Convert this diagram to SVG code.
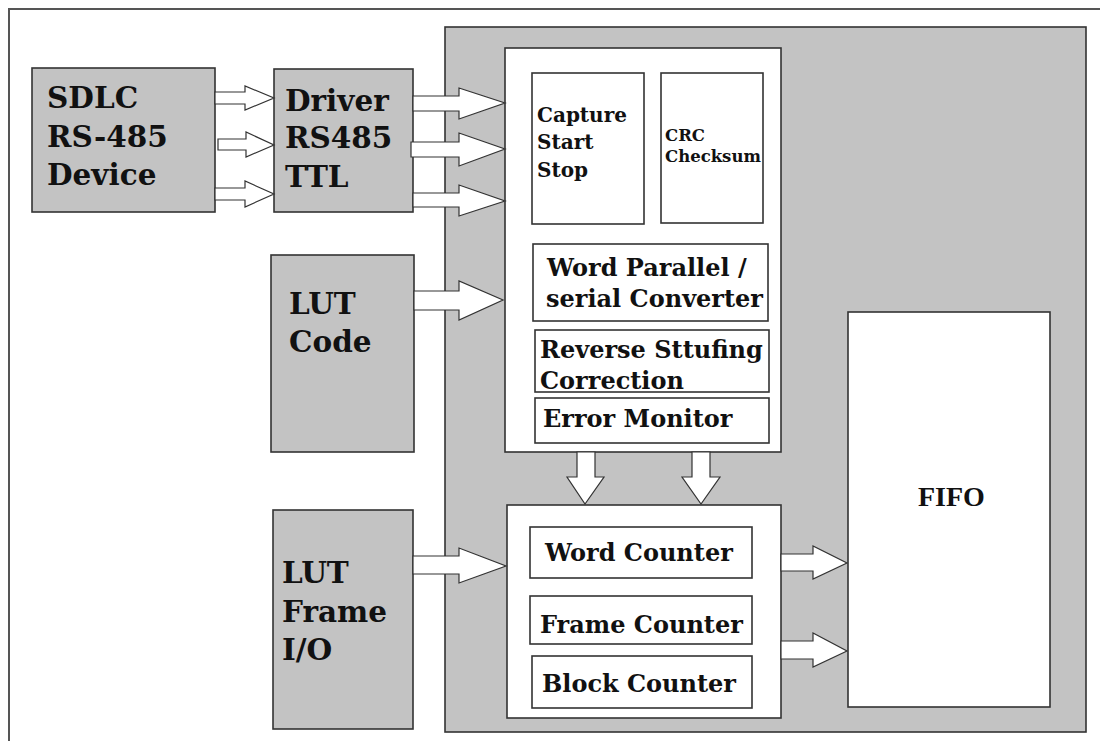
<svg xmlns="http://www.w3.org/2000/svg" width="1100" height="741" viewBox="0 0 1100 741">
<defs>
<style>
.bg{fill:#ffffff}
.frame{fill:none;stroke:#555;stroke-width:2}
.gray{fill:#c3c3c3;stroke:#333;stroke-width:1.6}
.white{fill:#ffffff;stroke:#333;stroke-width:1.6}
.arrow{fill:#ffffff;stroke:#333;stroke-width:1.2;stroke-linejoin:miter}
.big{font-family:"DejaVu Serif",serif;font-weight:bold;font-size:29.5px;fill:#111}
.mid{font-family:"DejaVu Serif",serif;font-weight:bold;font-size:24px;fill:#111}
.sm{font-family:"DejaVu Serif",serif;font-weight:bold;font-size:20px;fill:#111}
.xs{font-family:"DejaVu Serif",serif;font-weight:bold;font-size:16.5px;fill:#111}
.fifo{font-family:"Liberation Serif",serif;font-weight:bold;font-size:28px;fill:#111}
</style>
<clipPath id="crcClip"><rect x="661" y="73" width="101" height="150"/></clipPath>
</defs>
<rect class="bg" x="0" y="0" width="1100" height="741"/>
<rect class="frame" x="9" y="9" width="1100" height="740"/>

<g id="panel"><rect class="gray" x="445" y="27" width="641" height="705"/></g>

<g id="sdlc">
<rect class="gray" x="32" y="68" width="183" height="144"/>
<text class="big" x="47" y="108">SDLC</text>
<text class="big" x="47" y="147">RS-485</text>
<text class="big" x="47" y="185">Device</text>
</g>

<g id="driver">
<rect class="gray" x="274" y="69" width="139" height="143"/>
<text class="big" x="285" y="111">Driver</text>
<text class="big" x="285" y="148">RS485</text>
<text class="big" x="285" y="187">TTL</text>
</g>

<g id="lutcode">
<rect class="gray" x="271" y="255" width="143" height="197"/>
<text class="big" x="289" y="314">LUT</text>
<text class="big" x="289" y="352">Code</text>
</g>

<g id="lutframe">
<rect class="gray" x="273" y="510" width="140" height="219"/>
<text class="big" x="282" y="583">LUT</text>
<text class="big" x="282" y="622">Frame</text>
<text class="big" x="282" y="660">I/O</text>
</g>

<g id="decoder">
<rect class="white" x="505" y="48" width="276" height="404"/>
</g>

<g id="capture">
<rect class="white" x="532" y="73" width="112" height="151"/>
<text class="sm" x="537" y="122">Capture</text>
<text class="sm" x="537" y="149">Start</text>
<text class="sm" x="537" y="177">Stop</text>
</g>

<g id="crc">
<rect class="white" x="661" y="73" width="102" height="150"/>
<g clip-path="url(#crcClip)">
<text class="xs" x="665" y="141">CRC</text>
<text class="xs" x="665" y="162">Checksum</text>
</g>
</g>

<g id="wordparallel">
<rect class="white" x="533" y="244" width="235" height="77"/>
<text class="mid" x="547" y="276">Word Parallel /</text>
<text class="mid" x="546" y="307">serial Converter</text>
</g>

<g id="reverse">
<rect class="white" x="535" y="330" width="234" height="62"/>
<text class="mid" x="540" y="358">Reverse Sttufing</text>
<text class="mid" x="540" y="389">Correction</text>
</g>

<g id="errormonitor">
<rect class="white" x="535" y="398" width="234" height="45"/>
<text class="mid" x="543" y="427">Error Monitor</text>
</g>

<g id="counters">
<rect class="white" x="507" y="505" width="274" height="213"/>
</g>

<g id="wordcounter">
<rect class="white" x="530" y="527" width="222" height="51"/>
<text class="mid" x="545" y="561">Word Counter</text>
</g>

<g id="framecounter">
<rect class="white" x="530" y="596" width="222" height="48"/>
<text class="mid" x="540" y="633">Frame Counter</text>
</g>

<g id="blockcounter">
<rect class="white" x="532" y="656" width="220" height="52"/>
<text class="mid" x="542" y="692">Block Counter</text>
</g>

<g id="fifo">
<rect class="white" x="848" y="312" width="202" height="395"/>
<text class="fifo" x="918" y="506">FIFO</text>
</g>

<g id="connectors">
<polygon class="arrow" points="215,92 245,92 245,86 274,98 245,110 245,104 215,104"/>
<polygon class="arrow" points="218,139 246,139 246,132 274,145 246,157 246,150 218,150"/>
<polygon class="arrow" points="215,188 245,188 245,181 274,194 245,207 245,200 215,200"/>
<polygon class="arrow" points="413,96 459,96 459,88 505,103 459,119 459,111 413,111"/>
<polygon class="arrow" points="411,142 459,142 459,133 505,149 459,166 459,157 411,157"/>
<polygon class="arrow" points="413,193 459,193 459,185 505,201 459,216 459,207 413,207"/>
<polygon class="arrow" points="414,291 459,291 459,281 503,300 459,320 459,310 414,310"/>
<polygon class="arrow" points="413,556 459,556 459,548 506,566 459,583 459,574 413,574"/>
<polygon class="arrow" points="781,554 813,554 813,546 847,563 813,579 813,571 781,571"/>
<polygon class="arrow" points="781,641 813,641 813,633 847,651 813,667 813,659 781,659"/>
<polygon class="arrow" points="577,452 577,477 567,477 585,504 604,477 595,477 595,452"/>
<polygon class="arrow" points="692,452 692,477 682,477 701,504 720,477 710,477 710,452"/>
</g>
</svg>
